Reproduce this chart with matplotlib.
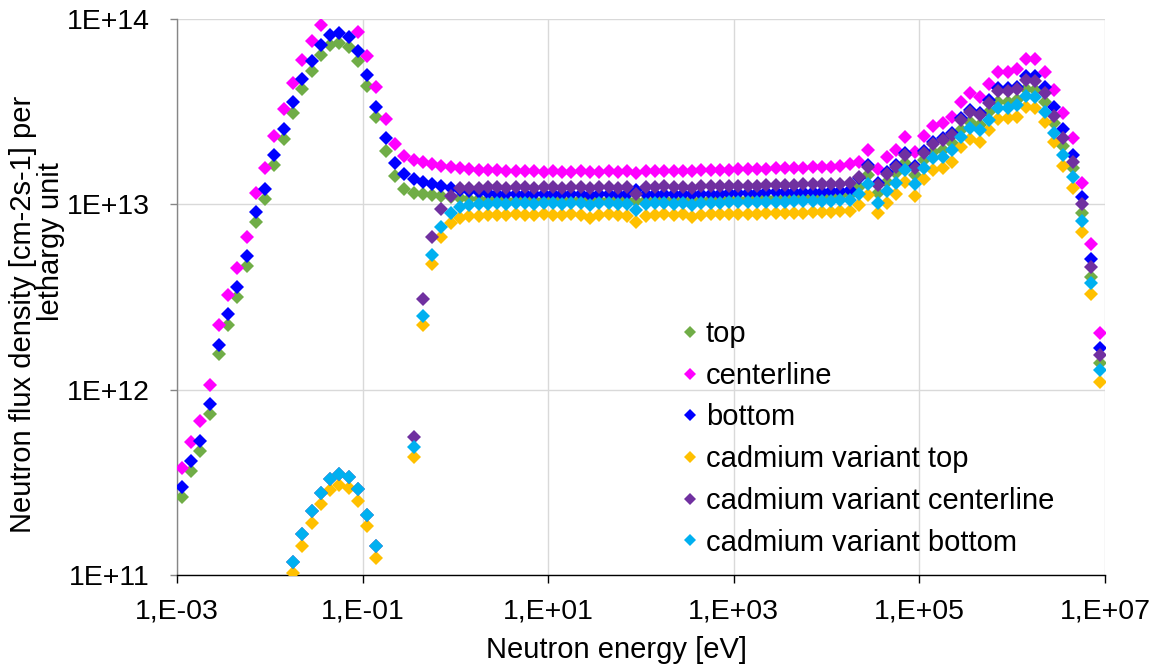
import matplotlib

matplotlib.use("Agg")

import matplotlib.pyplot as plt
import numpy as np
from matplotlib.lines import Line2D
from matplotlib.ticker import FixedLocator, FuncFormatter, NullLocator

plt.rcParams["font.family"] = ["Liberation Sans", "DejaVu Sans"]

NA = np.nan  # point not drawn (below 1E+11)

# energy grid: 10 groups per decade, group centre energies [eV]
GROUP_MANTISSA = [1.12, 1.41, 1.78, 2.24, 2.82, 3.55, 4.47, 5.62, 7.08, 8.91]
DECADES = [-3, -2, -1, 0, 1, 2, 3, 4, 5, 6]

# flux density per lethargy unit, in units of 1E+12 cm-2 s-1
TOP = [
    0.263, 0.364, 0.466, 0.738, 1.56, 2.23, 3.16, 4.64, 8.02, 10.7,
    16.3, 22.5, 31.1, 41.9, 52.4, 63.9, 72.4, 74.2, 70.6, 59.3,
    43.5, 29.6, 19.4, 14.2, 12.1, 11.5, 11.4, 11.2, 11.1, 11.0,
    10.8, 10.7, 10.7, 10.6, 10.7, 10.6, 10.6, 10.7, 10.6, 10.6,
    10.7, 10.6, 10.6, 10.7, 10.5, 10.6, 10.6, 10.7, 10.6, 10.4,
    10.6, 10.6, 10.7, 10.6, 10.6, 10.5, 10.6, 10.7, 10.6, 10.7,
    10.7, 10.7, 10.8, 10.8, 10.8, 10.8, 10.9, 10.9, 10.9, 11.0,
    11.0, 11.1, 11.2, 12.4, 14.4, 11.5, 13.2, 14.8, 16.7, 14.4,
    17.4, 19.2, 19.6, 21.4, 25.2, 27.8, 26.7, 31.5, 35.7, 35.7,
    36.6, 41.9, 41.4, 35.7, 27.5, 20.6, 15.7, 8.98, 4.05, 1.39,
]
CENTERLINE = [
    0.377, 0.522, 0.677, 1.06, 2.23, 3.24, 4.53, 6.66, 11.5, 15.7,
    23.3, 32.7, 45.1, 60.1, 76.1, 92.8, 105, 108, 103, 85.1,
    63.2, 43.0, 28.8, 21.1, 18.2, 17.4, 16.9, 16.5, 16.1, 15.9,
    15.7, 15.5, 15.4, 15.3, 15.3, 15.2, 15.2, 15.1, 15.1, 15.0,
    15.1, 15.0, 15.0, 15.1, 14.9, 15.0, 15.1, 15.0, 15.1, 14.8,
    15.1, 15.2, 15.1, 15.2, 15.2, 15.1, 15.3, 15.3, 15.4, 15.4,
    15.5, 15.5, 15.6, 15.6, 15.7, 15.7, 15.7, 15.8, 15.9, 16.0,
    16.0, 16.2, 16.6, 16.9, 19.6, 15.5, 17.9, 19.6, 23.1, 19.2,
    23.3, 26.4, 27.5, 29.6, 35.7, 39.9, 37.9, 44.6, 51.8, 51.8,
    53.7, 60.8, 60.8, 51.8, 41.4, 31.1, 22.8, 13.0, 6.10, 2.02,
]
BOTTOM = [
    0.298, 0.412, 0.528, 0.836, 1.74, 2.56, 3.58, 5.26, 9.09, 12.1,
    18.5, 25.5, 35.7, 47.4, 59.3, 72.4, 82.0, 84.0, 80.0, 67.2,
    49.9, 33.5, 22.8, 16.7, 14.6, 13.7, 13.2, 12.9, 12.6, 12.2,
    11.9, 11.8, 11.6, 11.5, 11.4, 11.4, 11.3, 11.3, 11.4, 11.3,
    11.3, 11.4, 11.3, 11.3, 11.2, 11.3, 11.4, 11.3, 11.3, 12.0,
    11.3, 11.4, 11.3, 11.3, 11.4, 11.3, 11.4, 11.4, 11.4, 11.5,
    11.5, 11.5, 11.5, 11.6, 11.6, 11.6, 11.6, 11.7, 11.7, 11.7,
    11.8, 11.8, 12.0, 13.8, 16.3, 13.0, 14.9, 16.3, 18.9, 16.1,
    19.4, 21.7, 22.8, 24.2, 29.2, 32.3, 31.1, 36.6, 42.4, 42.4,
    43.0, 49.3, 49.3, 43.0, 33.5, 25.5, 18.5, 10.9, 5.07, 1.68,
]
CD_TOP = [
    NA, NA, NA, NA, NA, NA, NA, NA, NA, NA,
    NA, NA, 0.102, 0.144, 0.191, 0.241, 0.287, 0.305, 0.294, 0.250,
    0.184, 0.123, NA, NA, NA, 0.433, 2.23, 4.76, 6.66, 7.92,
    8.43, 8.62, 8.70, 8.75, 8.80, 8.78, 8.82, 8.75, 8.80, 8.84,
    8.80, 8.78, 8.82, 8.76, 8.43, 8.80, 8.84, 8.80, 8.70, 8.02,
    8.70, 8.80, 8.84, 8.78, 8.82, 8.53, 8.80, 8.84, 8.86, 8.84,
    8.88, 8.90, 8.92, 8.95, 8.98, 8.98, 9.00, 9.02, 9.05, 9.08,
    9.10, 9.15, 9.25, 9.89, 11.2, 8.98, 10.2, 11.4, 13.2, 11.1,
    13.7, 15.3, 15.7, 16.9, 20.3, 22.5, 21.7, 25.2, 28.8, 29.2,
    29.6, 33.5, 33.1, 27.8, 21.7, 16.1, 12.2, 7.09, 3.28, 1.10,
]
CD_CENTERLINE = [
    NA, NA, NA, NA, NA, NA, NA, NA, NA, NA,
    NA, NA, 0.118, 0.166, 0.221, 0.277, 0.329, 0.350, 0.338, 0.290,
    0.210, 0.144, NA, NA, NA, 0.555, 3.10, 6.66, 9.43, 11.1,
    12.2, 12.3, 12.3, 12.4, 12.4, 12.3, 12.4, 12.4, 12.3, 12.4,
    12.4, 12.3, 12.4, 12.4, 12.2, 12.4, 12.4, 12.3, 12.4, 11.4,
    12.4, 12.4, 12.5, 12.4, 12.4, 12.3, 12.5, 12.5, 12.5, 12.6,
    12.6, 12.6, 12.6, 12.7, 12.7, 12.7, 12.7, 12.8, 12.8, 12.8,
    12.8, 12.9, 13.0, 14.0, 15.9, 12.7, 14.6, 15.9, 18.5, 15.7,
    18.9, 21.1, 22.2, 23.7, 28.5, 31.5, 30.3, 35.2, 40.9, 40.9,
    41.9, 46.9, 46.3, 39.9, 30.0, 22.8, 16.9, 10.0, 4.59, 1.54,
]
CD_BOTTOM = [
    NA, NA, NA, NA, NA, NA, NA, NA, NA, NA,
    NA, NA, 0.118, 0.166, 0.221, 0.277, 0.329, 0.350, 0.338, 0.290,
    0.210, 0.144, NA, NA, NA, 0.490, 2.50, 5.33, 7.54, 8.98,
    9.67, 9.95, 10.1, 10.1, 10.2, 10.1, 10.2, 10.2, 10.1, 10.2,
    10.2, 10.1, 10.2, 10.2, 9.95, 10.2, 10.2, 10.1, 10.1, 9.32,
    10.1, 10.2, 10.2, 10.1, 10.2, 9.95, 10.2, 10.2, 10.2, 10.3,
    10.3, 10.3, 10.3, 10.3, 10.3, 10.3, 10.4, 10.4, 10.4, 10.4,
    10.4, 10.5, 10.6, 11.4, 12.9, 10.2, 11.8, 13.0, 15.3, 12.9,
    15.7, 17.8, 17.9, 19.6, 23.1, 25.8, 25.2, 28.5, 33.1, 33.1,
    34.4, 38.4, 37.9, 31.5, 24.2, 18.5, 14.0, 8.12, 3.76, 1.27,
]

SERIES = [
    ("top", TOP, "#70AD47"),
    ("centerline", CENTERLINE, "#FF00FF"),
    ("bottom", BOTTOM, "#0000FF"),
    ("cadmium variant top", CD_TOP, "#FFC000"),
    ("cadmium variant centerline", CD_CENTERLINE, "#7030A0"),
    ("cadmium variant bottom", CD_BOTTOM, "#00B0F0"),
]

Y_MIN, Y_MAX = 1e11, 1e14
FONT_SIZE = 20.5
TITLE_SIZE = 21
LEGEND_SIZE = 21
W, H = 1159, 670


def main():
    energy = np.array([m * 10.0 ** d for d in DECADES for m in GROUP_MANTISSA])

    fig = plt.figure(figsize=(W / 100, H / 100), dpi=100)
    ax = fig.add_axes([177 / W, 1 - 575 / H, (1105 - 177) / W, (575 - 19) / H])

    handles = []
    for name, values, color in SERIES:
        flux = np.array(values, dtype=float) * 1e12
        # points outside the value axis are not drawn at all
        flux = np.where((flux >= Y_MIN) & (flux <= Y_MAX), flux, np.nan)
        ax.plot(energy, flux, linestyle="none", marker="D", markersize=7.1,
                markeredgewidth=0, color=color, zorder=3)
        handles.append(Line2D([], [], linestyle="none", marker="D", markersize=6.0,
                              markeredgewidth=0, color=color, label=name))

    ax.set_xscale("log")
    ax.set_yscale("log")
    ax.set_xlim(1e-3, 1e7)
    ax.set_ylim(Y_MIN, Y_MAX)

    ax.xaxis.set_major_locator(FixedLocator(10.0 ** np.arange(-3, 8, 2)))
    ax.xaxis.set_minor_locator(NullLocator())
    ax.yaxis.set_major_locator(FixedLocator(10.0 ** np.arange(11, 15)))
    ax.yaxis.set_minor_locator(NullLocator())
    ax.xaxis.set_major_formatter(FuncFormatter(lambda v, p: f"1,E{int(round(np.log10(v))):+03d}"))
    ax.yaxis.set_major_formatter(FuncFormatter(lambda v, p: f"1E+{int(round(np.log10(v))):02d}"))

    ax.set_axisbelow(True)
    ax.grid(True, color="#D9D9D9", linewidth=1.0)
    ax.spines["top"].set_visible(False)
    ax.spines["right"].set_visible(False)
    ax.spines["left"].set_color("#868686")
    ax.spines["left"].set_linewidth(1.0)
    ax.spines["bottom"].set_color("black")
    ax.spines["bottom"].set_linewidth(1.0)

    ax.tick_params(axis="x", direction="out", length=5.8, width=1.0, color="black",
                   labelsize=FONT_SIZE, pad=11)
    ax.tick_params(axis="y", direction="out", length=5.0, width=1.0, color="#868686",
                   labelsize=FONT_SIZE, pad=14.4)

    fig.text(617 / W, 1 - 650 / H, "Neutron energy [eV]", ha="center", va="center",
             fontsize=TITLE_SIZE)
    fig.text(23 / W, 1 - 314 / H, "Neutron flux density [cm-2s-1] per", rotation=90,
             ha="center", va="center", fontsize=TITLE_SIZE)
    fig.text(51 / W, 1 - 242 / H, "lethargy unit", rotation=90,
             ha="center", va="center", fontsize=TITLE_SIZE)

    ax.legend(handles=handles, loc="upper left", bbox_to_anchor=(681 / W, 1 - 320 / H),
              bbox_transform=fig.transFigure, frameon=False, fontsize=LEGEND_SIZE,
              borderpad=0, borderaxespad=0, handlelength=0.6, handletextpad=0.25,
              labelspacing=0.47)

    fig.savefig("out.png", dpi=100)
    plt.close(fig)


if __name__ == "__main__":
    main()
